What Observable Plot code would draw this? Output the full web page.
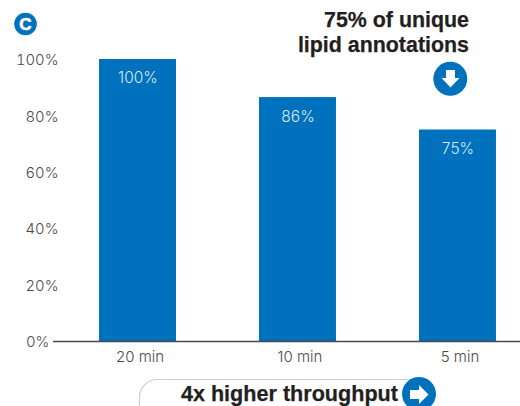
<!DOCTYPE html>
<html><head><meta charset="utf-8">
<script src="https://cdn.jsdelivr.net/npm/d3@7"></script>
<script src="https://cdn.jsdelivr.net/npm/@observablehq/plot@0.6"></script>
<style>
html,body{margin:0;padding:0;background:#fff;overflow:hidden}
#wrap{position:relative;width:520px;height:406px;overflow:hidden}
#wrap svg.plot{display:block;position:absolute;left:0;top:0}
.note{position:absolute;font-family:"Liberation Sans",sans-serif;font-weight:700;color:#231f20;white-space:nowrap;-webkit-text-stroke:.25px #231f20}
#deco{position:absolute;left:0;top:0}
</style></head><body>
<div id="wrap"></div>
<script>
const categories = ["20 min", "10 min", "5 min"];
const values = [100, 86.5, 75];
const valueLabels = ["100%", "86%", "75%"];
const yTicks = [20, 40, 60, 80, 100];
const barColor = "#0071bc";
const tickFont = "Inter, 'Liberation Sans', sans-serif";

const data = categories.map((c, i) => ({category: c, value: values[i], label: valueLabels[i]}));

const chart = Plot.plot({
  width: 520, height: 406,
  marginTop: 59, marginBottom: 65, marginLeft: 53, marginRight: 0,
  style: {fontFamily: tickFont, fontSize: "15px", fontWeight: 300, color: "#4a4a4a", background: "transparent"},
  x: {domain: categories, paddingInner: 0.519, paddingOuter: 0.219, align: 0.657, round: false, label: null},
  y: {domain: [0, 100], label: null},
  marks: [
    Plot.barY(data, {x: "category", y: "value", fill: barColor}),
    Plot.ruleY([0], {stroke: "#4a4a4a", strokeWidth: 1.5}),
    Plot.text(data, {x: "category", y: "value", text: "label", dy: 19, fill: "#d9e9f6", fontSize: 15.5, fontWeight: 300}),
    Plot.axisY({ticks: yTicks, tickFormat: d => d + "%", tickSize: 0, tickPadding: -5, dy: 1, label: null, fontSize: 14.8, fill: "#4a4a4a"}),
    Plot.axisY({ticks: [0], tickFormat: d => d + "%", tickSize: 0, tickPadding: 4, dy: 1, label: null, fontSize: 14.8, fill: "#4a4a4a"}),
    Plot.axisX({tickSize: 0, tickPadding: 10, dx: 2, label: null, fontSize: 15, fill: "#4a4a4a"})
  ]
});
const wrap = document.getElementById("wrap");
chart.classList.add("plot");
wrap.appendChild(chart);

const deco = document.createElementNS("http://www.w3.org/2000/svg", "svg");
deco.id = "deco";
deco.setAttribute("width", 520); deco.setAttribute("height", 406);
deco.innerHTML = `
<rect x="139.500" y="379.500" width="290" height="60" rx="18" fill="#fff" stroke="#c3d2dc" stroke-width="1.2"/>
<circle cx="450.300" cy="78.700" r="17" fill="${barColor}"/>
<path d="M446 70h9v8h4.500L450.500 87.500 441.500 78H446z" fill="#fff"/>
<circle cx="419" cy="394" r="17" fill="${barColor}"/>
<path d="M410 390h9v-5L428.500 394.500 419 404v-5h-9z" fill="#fff"/>
<circle cx="25.500" cy="24" r="11.300" fill="${barColor}"/>
<text x="25.500" y="30" text-anchor="middle" font-family="Liberation Sans" font-weight="700" font-size="17" fill="#fff" stroke="#fff" stroke-width=".6">C</text>`;
wrap.appendChild(deco);

function note(text, right, top, size) {
  const d = document.createElement("div");
  d.className = "note"; d.textContent = text;
  d.style.right = (520 - right) + "px"; d.style.top = top + "px";
  d.style.fontSize = size + "px"; d.style.lineHeight = "26px";
  wrap.appendChild(d);
}
note("75% of unique", 469, 7, 21.4);
note("lipid annotations", 469, 32, 21.4);
note("4x higher throughput", 398, 381, 21.6);
</script></body></html>
